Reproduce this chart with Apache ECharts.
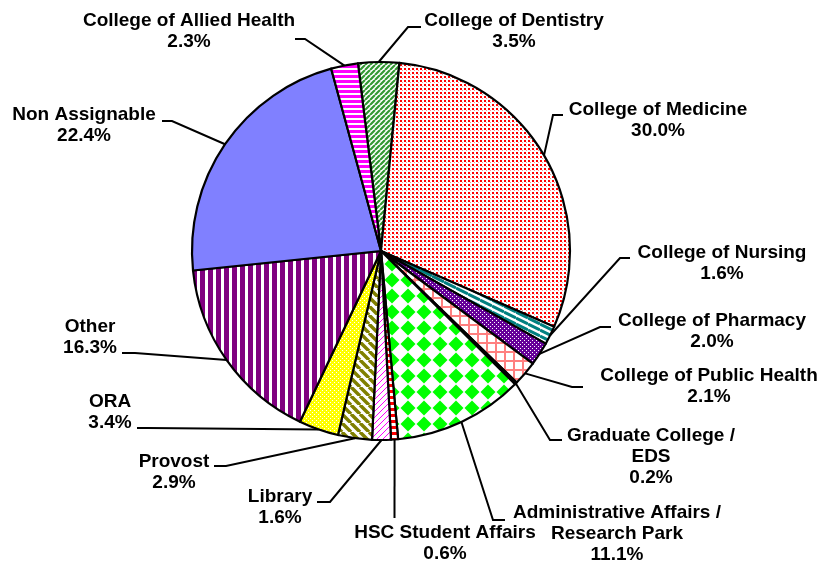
<!DOCTYPE html>
<html>
<head>
<meta charset="utf-8">
<script src="https://cdn.jsdelivr.net/npm/echarts@6/dist/echarts.min.js"></script>
<style>
  html, body { margin: 0; padding: 0; background: #fff; }
  #chart { width: 821px; height: 562px; }
</style>
</head>
<body>
<div id="chart"></div>
<script>
// slices, clockwise from the top
var categories = [
  'College of Dentistry',
  'College of Medicine',
  'College of Nursing',
  'College of Pharmacy',
  'College of Public Health',
  'Graduate College /\nEDS',
  'Administrative Affairs /\nResearch Park',
  'HSC Student Affairs',
  'Library',
  'Provost',
  'ORA',
  'Other',
  'Non Assignable',
  'College of Allied Health'
]
var shares = [3.5, 30.0, 1.6, 2.0, 2.1, 0.2, 11.1, 0.6, 1.6, 2.9, 3.4, 16.3, 22.4, 2.3]

// label placement: text centre x, y / end of leader stub x, y / elbow x
var labelPos = [
  [514, 31.5, 421, 27, 408],
  [658, 120.5, 563, 115, 553],
  [722, 263.5, 630, 258, 620],
  [712, 331.5, 611, 327, 600],
  [709, 386, 583, 387, 572],
  [651, 456.5, 562, 440, 550],
  [617, 533.5, 505, 520, 493],
  [445, 543, 394.5, 518, 394.5],
  [280, 507.5, 317, 502, 330],
  [174, 472, 214, 466, 226],
  [110, 412, 137, 428, 148],
  [90, 337, 122, 353, 135],
  [84, 125.5, 162, 121, 172],
  [189, 31.5, 295, 39, 305]
]

// small canvas tiles used as fill patterns
function tile(w, h, bg, draw) {
  var c = document.createElement('canvas')
  c.width = w
  c.height = h
  var g = c.getContext('2d')
  g.fillStyle = bg
  g.fillRect(0, 0, w, h)
  draw(g)
  return { image: c, repeat: 'repeat' }
}
function diag(p, lw, color, up) {
  return tile(p, p, '#fff', function (g) {
    g.strokeStyle = color
    g.lineWidth = lw
    g.beginPath()
    for (var k = -1; k <= 1; k++) {
      if (up) { g.moveTo(k * p, p); g.lineTo(k * p + p, 0) }
      else { g.moveTo(k * p, 0); g.lineTo(k * p + p, p) }
    }
    g.stroke()
  })
}

var fills = [
  diag(5, 2.2, '#339933', true),
  tile(4, 4, '#fff', function (g) { g.fillStyle = '#ff0000'; g.fillRect(0, 0, 2, 2); g.fillStyle = '#ff9090'; g.fillRect(2, 2, 1, 1) }),
  tile(12, 6, '#fff', function (g) {
    g.strokeStyle = '#008080'; g.lineWidth = 3; g.beginPath()
    for (var k = -1; k <= 1; k++) { g.moveTo(0, k * 6); g.lineTo(12, k * 6 + 6) }
    g.stroke()
  }),
  tile(4, 4, '#660099', function (g) { g.fillStyle = '#fff'; g.fillRect(0, 0, 1, 1); g.fillRect(2, 2, 1, 1) }),
  tile(9, 9, '#fff', function (g) { g.fillStyle = '#ff8080'; g.fillRect(0, 0, 9, 2); g.fillRect(0, 0, 2, 9) }),
  '#222222',
  tile(16, 16, '#fff', function (g) {
    g.fillStyle = '#00ff00'; g.beginPath()
    g.moveTo(8, 0.5); g.lineTo(15.5, 8); g.lineTo(8, 15.5); g.lineTo(0.5, 8); g.closePath(); g.fill()
  }),
  tile(1, 6, '#fff', function (g) { g.fillStyle = '#ff0000'; g.fillRect(0, 0, 1, 3) }),
  diag(6, 1, '#ff00ff', true),
  diag(9, 3.5, '#808000', false),
  tile(4, 4, '#ffff00', function (g) { g.fillStyle = '#fff'; g.fillRect(0, 0, 1, 1); g.fillRect(2, 2, 1, 1) }),
  tile(8, 1, '#fff', function (g) { g.fillStyle = '#800080'; g.fillRect(0, 0, 5, 1) }),
  '#8080ff',
  tile(1, 5, '#fff', function (g) { g.fillStyle = '#ff00ff'; g.fillRect(0, 0, 1, 3) })
]

var chart = echarts.init(document.getElementById('chart'))
chart.setOption({
  animation: false,
  series: [{
    type: 'pie',
    center: [381, 251],
    radius: 189,
    startAngle: 97,
    clockwise: true,
    avoidLabelOverlap: false,
    emphasis: { disabled: true },
    itemStyle: { borderColor: '#000', borderWidth: 2.2 },
    label: {
      show: true,
      position: 'outside',
      color: '#000',
      fontFamily: "'Liberation Sans', Arial, sans-serif",
      fontWeight: 'bold',
      fontSize: 19,
      lineHeight: 21,
      align: 'center',
      formatter: function (p) {
        return p.name + '\n' + shares[p.dataIndex].toFixed(1) + '%'
      }
    },
    labelLine: { show: true, lineStyle: { color: '#000', width: 2 } },
    labelLayout: function (p) {
      var lp = labelPos[p.dataIndex]
      var edge = p.labelLinePoints ? p.labelLinePoints[0] : [lp[4], lp[3]]
      return {
        x: lp[0],
        y: lp[1],
        align: 'center',
        verticalAlign: 'middle',
        labelLinePoints: [edge, [lp[4], lp[3]], [lp[2], lp[3]]]
      }
    },
    data: categories.map(function (name, i) {
      return { name: name, value: shares[i], itemStyle: { color: fills[i] } }
    })
  }]
})
</script>
</body>
</html>
